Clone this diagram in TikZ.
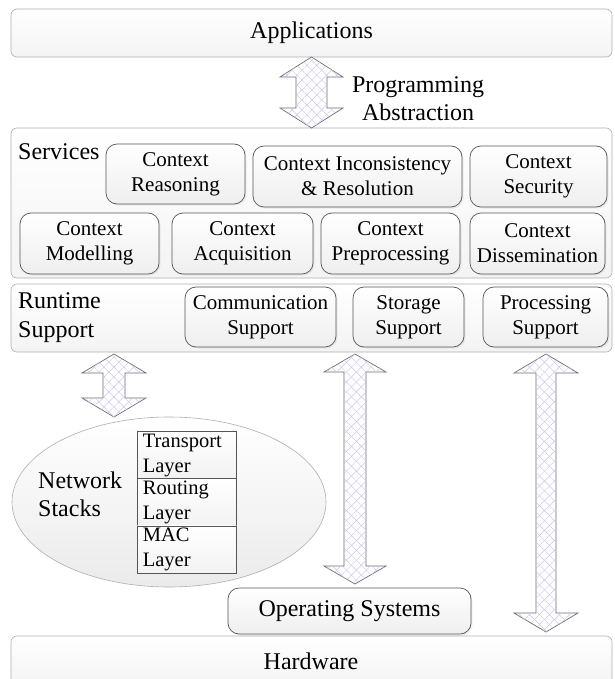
\documentclass[tikz,border=0pt]{standalone}
\usepackage{fontspec}
\setmainfont{Liberation Serif}
\usetikzlibrary{patterns.meta,shadows,shapes.geometric}
\definecolor{lav}{RGB}{205,195,238}
\definecolor{boxline}{RGB}{85,85,85}
\definecolor{outerline}{RGB}{175,175,175}
\tikzset{
 outerbox/.style={draw=outerline, rounded corners=6pt, top color=white, bottom color=gray!9, line width=0.6pt},
 innerbox/.style={draw=boxline, rounded corners=11pt, top color=white, bottom color=gray!13, line width=0.7pt,
   drop shadow={opacity=0.12,shadow xshift=1.5pt,shadow yshift=-1.5pt}},
 layerbox/.style={draw=boxline, top color=white, bottom color=gray!10, line width=0.7pt, inner xsep=5pt, inner ysep=0pt,
   minimum width=99pt, minimum height=47.3pt, text width=88pt, align=left, font=\fontsize{20.5}{25}\selectfont},
 blockarrow/.style={draw=gray!85!black, line width=0.7pt, fill=white,
   postaction={pattern={Lines[angle=45,distance=7pt,line width=0.45pt]}, pattern color=lav},
   postaction={pattern={Lines[angle=-45,distance=7pt,line width=0.45pt]}, pattern color=lav}},
 big/.style={font=\fontsize{24}{28}\selectfont},
 small/.style={font=\fontsize{21}{25}\selectfont},
 lbl/.style={inner sep=0pt},
}
% #1 x, #2 y top, #3 y bottom, #4 head half width, #5 shaft half width, #6 head length
\newcommand\blkarrow[6]{%
 \path[blockarrow] (#1,#2) -- (#1+#4,#2+#6) -- (#1+#5,#2+#6) -- (#1+#5,#3-#6) -- (#1+#4,#3-#6)
   -- (#1,#3) -- (#1-#4,#3-#6) -- (#1-#5,#3-#6) -- (#1-#5,#2+#6) -- (#1-#4,#2+#6) -- cycle;}
\begin{document}
\begin{tikzpicture}[x=1pt,y=-1pt]
\useasboundingbox[fill=white] (0,0) rectangle (614,679);

% Applications
\node[outerbox, minimum width=601pt, minimum height=48pt, big] (apps) at (311.5,33) {Applications};

% Services
\node[outerbox, minimum width=601pt, minimum height=150pt] (services) at (311.5,203) {};
\node[lbl, big, anchor=west] (servlbl) at (18,152) {Services};
\node[innerbox, small, align=center, minimum width=139pt, minimum height=60pt] (reason) at (175.5,174) {Context\\Reasoning};
\node[innerbox, small, align=center, minimum width=209pt, minimum height=61pt] (incons) at (357.5,176.5) {Context Inconsistency\\\& Resolution};
\node[innerbox, small, align=center, minimum width=137pt, minimum height=61pt] (secur) at (538.5,176.5) {Context\\Security};
\node[innerbox, small, align=center, minimum width=139pt, minimum height=61pt] (model) at (89.5,243.5) {Context\\Modelling};
\node[innerbox, small, align=center, minimum width=141pt, minimum height=61pt] (acq) at (242.5,243.5) {Context\\Acquisition};
\node[innerbox, small, align=center, minimum width=139pt, minimum height=61pt] (prep) at (390.5,243.5) {Context\\Preprocessing};
\node[innerbox, small, align=center, minimum width=135pt, minimum height=61pt] (dissem) at (537.5,243.5) {Context\\Dissemination};

% Runtime support
\node[outerbox, minimum width=601pt, minimum height=68pt] (runtime) at (311.5,318) {};
\node[lbl, big, anchor=west, align=left, font=\fontsize{24}{29}\selectfont] (rtlbl) at (18,317.5) {Runtime\\Support};
\node[innerbox, small, align=center, minimum width=151pt, minimum height=60pt] (comm) at (260.5,317) {Communication\\Support};
\node[innerbox, small, align=center, minimum width=111pt, minimum height=60pt] (stor) at (408.5,317) {Storage\\Support};
\node[innerbox, small, align=center, minimum width=125pt, minimum height=60pt] (proc) at (545.5,317) {Processing\\Support};

% Hardware
\node[outerbox, minimum width=601pt, minimum height=50pt] (hw) at (311.5,661) {};
\node[lbl, big] (hwlbl) at (311,661) {Hardware};

% Operating systems
\node[innerbox, big, minimum width=243pt, minimum height=46pt] (os) at (349.5,611) {Operating Systems};

% Network stacks
\node[ellipse, draw=outerline, line width=0.6pt, top color=white, bottom color=gray!16,
  minimum width=314pt, minimum height=170pt, inner sep=0pt] (net) at (169,502) {};
\node[lbl, big, anchor=west, align=left] (netlbl) at (38,494) {Network\\Stacks};
\node[layerbox, anchor=north west] (tl) at (137,431) {Transport\\Layer};
\node[layerbox, anchor=north west] (rl) at (137,478.3) {Routing\\Layer};
\node[layerbox, anchor=north west] (ml) at (137,525.6) {MAC\\Layer};

% Block arrows
\blkarrow{311.5}{57}{128}{31.5}{15.5}{20}
\node[lbl, big, align=center] (pa) at (418,99) {Programming\\Abstraction};
\blkarrow{114}{354}{417}{32}{11}{19}
\blkarrow{355}{354}{584}{31}{11}{18}
\blkarrow{546}{354}{632}{32}{10}{19}
\end{tikzpicture}
\end{document}
